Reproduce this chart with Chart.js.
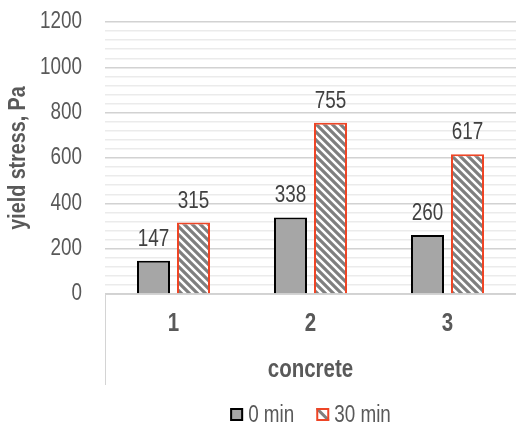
<!DOCTYPE html>
<html>
<head>
<meta charset="utf-8">
<script src="https://cdn.jsdelivr.net/npm/chart.js@4.4.1/dist/chart.umd.min.js"></script>
<style>
  html, body { margin: 0; padding: 0; background: #ffffff; }
  canvas { display: block; }
</style>
</head>
<body>
<canvas id="chart" width="516" height="425"></canvas>
<script>
// Yield stress of three concrete mixes, measured at 0 and 30 minutes
const categories = ['1', '2', '3'];
const seriesNames = ['0 min', '30 min'];
const stress0min = [147, 338, 260];
const stress30min = [315, 755, 617];
const yTickValues = [0, 200, 400, 600, 800, 1000, 1200];

const FONT = '"Liberation Sans", Arial, sans-serif';
const TEXT = '#595959';

// No narrow sans is installed, so all text is drawn with Liberation Sans
// squeezed horizontally (roughly the proportions of Arial Narrow).
const canvas = document.getElementById('chart');
const ctx2d = canvas.getContext('2d');
const SQUEEZE = 0.82;
const baseFill = ctx2d.fillText.bind(ctx2d);
const baseMeasure = ctx2d.measureText.bind(ctx2d);
ctx2d.fillText = function (text, x, y) {
  this.save();
  this.translate(x, y);
  this.scale(SQUEEZE, 1);
  baseFill(text, 0, 0);
  this.restore();
};
ctx2d.measureText = function (text) {
  const m = baseMeasure(text);
  return {
    width: m.width * SQUEEZE,
    actualBoundingBoxAscent: m.actualBoundingBoxAscent,
    actualBoundingBoxDescent: m.actualBoundingBoxDescent,
    actualBoundingBoxLeft: m.actualBoundingBoxLeft * SQUEEZE,
    actualBoundingBoxRight: m.actualBoundingBoxRight * SQUEEZE
  };
};

// diagonal "\" hatch used for the 30 min bars
function makeHatch() {
  const p = 8;
  const c = document.createElement('canvas');
  c.width = p; c.height = p;
  const g = c.getContext('2d');
  g.fillStyle = '#ffffff';
  g.fillRect(0, 0, p, p);
  g.strokeStyle = '#7f7f7f';
  g.lineWidth = 3.2;
  g.beginPath();
  g.moveTo(-p, -p); g.lineTo(2 * p, 2 * p);
  g.moveTo(-p, 0); g.lineTo(p, 2 * p);
  g.moveTo(0, -p); g.lineTo(2 * p, p);
  g.stroke();
  return g.createPattern(c, 'repeat');
}
const hatch = makeHatch();

// value labels above each bar
const valueLabels = {
  id: 'valueLabels',
  afterDatasetsDraw(chart) {
    const ctx = chart.ctx;
    ctx.save();
    ctx.font = '23px ' + FONT;
    ctx.fillStyle = '#404040';
    ctx.textAlign = 'center';
    ctx.textBaseline = 'alphabetic';
    chart.data.datasets.forEach((ds, di) => {
      chart.getDatasetMeta(di).data.forEach((bar, i) => {
        ctx.fillText(String(ds.data[i]), bar.x, bar.y - 15);
      });
    });
    ctx.restore();
  }
};

// left edge of the category axis box
const axisBox = {
  id: 'axisBox',
  afterDraw(chart) {
    const ctx = chart.ctx;
    const a = chart.chartArea;
    ctx.save();
    ctx.strokeStyle = '#d4d4d4';
    ctx.lineWidth = 1;
    ctx.beginPath();
    ctx.moveTo(a.left + 0.5, a.bottom);
    ctx.lineTo(a.left + 0.5, 385);
    ctx.stroke();
    ctx.restore();
  }
};

// series key under the axis, centred on the plot area
const seriesKey = {
  id: 'seriesKey',
  afterDraw(chart) {
    const ctx = chart.ctx;
    const a = chart.chartArea;
    const box = 13, toText = 5, itemGap = 22, baseline = 422;
    ctx.save();
    ctx.font = '23px ' + FONT;
    ctx.textAlign = 'left';
    ctx.textBaseline = 'alphabetic';
    const items = chart.data.datasets.map(ds => ({ ds, w: ctx.measureText(ds.label).width }));
    const total = items.reduce((s, it) => s + box + toText + it.w, 0) + itemGap * (items.length - 1);
    let x = (a.left + a.right) / 2 - total / 2;
    const top = baseline - 14;
    items.forEach((it, i) => {
      const ds = it.ds;
      ctx.fillStyle = i === 0 ? ds.backgroundColor : '#ffffff';
      ctx.fillRect(x, top, box, box);
      if (i === 1) {
        ctx.save();
        ctx.beginPath();
        ctx.rect(x, top, box, box);
        ctx.clip();
        ctx.strokeStyle = '#7f7f7f';
        ctx.lineWidth = 3;
        ctx.beginPath();
        ctx.moveTo(x, top);
        ctx.lineTo(x + box, top + box);
        ctx.stroke();
        ctx.restore();
      }
      ctx.strokeStyle = ds.borderColor;
      ctx.lineWidth = 2;
      ctx.strokeRect(x + 1, top + 1, box - 2, box - 2);
      ctx.fillStyle = TEXT;
      ctx.fillText(ds.label, x + box + toText, baseline);
      x += box + toText + it.w + itemGap;
    });
    ctx.restore();
  }
};

new Chart(canvas, {
  type: 'bar',
  data: {
    labels: categories,
    datasets: [
      {
        label: seriesNames[0],
        data: stress0min,
        backgroundColor: '#a6a6a6',
        borderColor: '#000000',
        borderWidth: 2,
        borderSkipped: 'bottom'
      },
      {
        label: seriesNames[1],
        data: stress30min,
        backgroundColor: hatch,
        borderColor: '#ee4526',
        borderWidth: 2,
        borderSkipped: 'bottom'
      }
    ]
  },
  options: {
    responsive: false,
    animation: false,
    devicePixelRatio: 1,
    layout: { padding: { top: 22, right: -2, left: 0, bottom: 40 } },
    datasets: { bar: { categoryPercentage: 0.584, barPercentage: 0.825 } },
    plugins: {
      tooltip: { enabled: false },
      legend: { display: false }
    },
    scales: {
      x: {
        offset: true,
        grid: { display: false },
        border: { display: true, color: '#d4d4d4', width: 1 },
        ticks: {
          color: TEXT,
          font: { family: FONT, size: 25, weight: 'bold' },
          padding: 7
        },
        title: {
          display: true,
          text: 'concrete',
          color: TEXT,
          font: { family: FONT, size: 25, weight: 'bold' },
          padding: { top: 0, bottom: 0 }
        },
        afterFit(scale) { scale.height = 91; }
      },
      y: {
        min: 0,
        max: 1200,
        border: { display: false },
        grid: {
          drawTicks: false,
          color(ctx) {
            const v = ctx.tick ? ctx.tick.value : 0;
            return yTickValues.includes(v) ? '#d2d2d2' : '#ebebeb';
          },
          lineWidth: 1.5
        },
        ticks: {
          stepSize: 40,
          autoSkip: false,
          color: TEXT,
          font: { family: FONT, size: 23 },
          padding: 23,
          callback(v) { return yTickValues.includes(v) ? String(v) : ''; }
        },
        title: {
          display: true,
          text: 'yield stress, Pa',
          color: TEXT,
          font: { family: FONT, size: 24, weight: 'bold' },
          padding: { top: 4, bottom: 0 }
        },
        afterFit(scale) {
          scale.width = 105;
          scale.paddingTop = 0;
          scale.paddingBottom = 0;
        }
      }
    }
  },
  plugins: [valueLabels, axisBox, seriesKey]
});
</script>
</body>
</html>
